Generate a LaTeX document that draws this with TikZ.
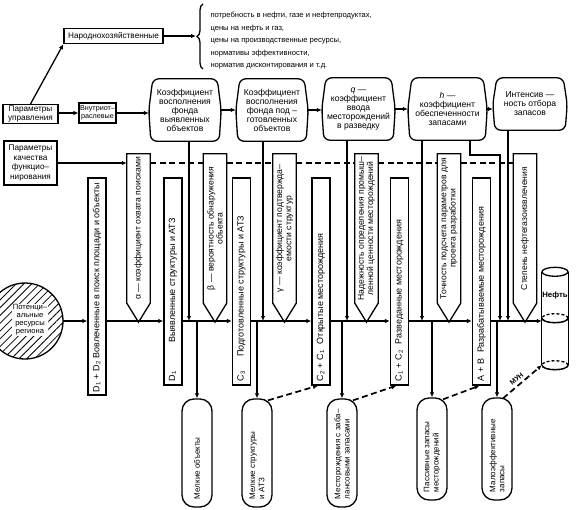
\documentclass[tikz,border=0pt]{standalone}
\usepackage{fontspec}
\setmainfont{Liberation Sans}
\usepackage{graphicx}
\usepackage{tikz}
\usetikzlibrary{arrows.meta,positioning,calc,patterns.meta,decorations.pathreplacing}
\tikzset{
  outl/.style={line width=1.3pt},
  pbox/.style={draw, line width=1.3pt, align=center, inner sep=1pt,
               font=\fontsize{8.2}{9.4}\selectfont},
  hdr/.style={align=center, inner sep=1pt, font=\fontsize{8.6}{9}\selectfont},
  stage/.style={draw, line width=1.3pt, inner sep=0pt, minimum width=18pt,
               font=\fontsize{9}{9.5}\selectfont},
  pent/.style={inner sep=0pt, minimum width=23pt, minimum height=149pt,
               font=\fontsize{8.6}{9.2}\selectfont},
  lbox/.style={draw, line width=1.3pt, rounded corners=12pt, inner sep=0pt,
               minimum width=30pt, font=\fontsize{8}{9.2}\selectfont},
  flow/.style={-{Latex[length=5pt,width=4.5pt]}, line width=1.3pt},
  dline/.style={line width=1.7pt, dash pattern=on 6pt off 3.5pt},
  dflow/.style={dline, -{Latex[length=5pt,width=4.5pt]}},
}
\newcommand{\vt}[2]{\rotatebox{90}{\parbox{#1}{\raggedright #2}}}
\newcommand{\vtc}[2]{\rotatebox{90}{\parbox{#1}{\centering #2}}}
\newcommand{\pentline}[1]{\draw[outl] (#1.north west) -- (#1.north east) -- (#1.south east)
  -- ($(#1.south)+(0,19)$) -- (#1.south west) -- cycle;}
\newcommand{\hdrline}[1]{\draw[outl, rounded corners=6pt] ($(#1.north west)+(4,0)$)
  -- ($(#1.north east)+(-4,0)$) -- (#1.east) -- ($(#1.south east)+(-2,0)$)
  -- ($(#1.south west)+(2,0)$) -- (#1.west) -- cycle;}

\begin{document}
\begin{tikzpicture}[x=1pt, y=-1pt]
  \useasboundingbox (0,0) rectangle (577,510);

  % top: national economy parameters
  \node[pbox, minimum width=99pt, minimum height=15pt] (nh) at (113.5,36) {Народнохозяйственные};
  \coordinate (bt) at (196,36);
  \draw[outl, decorate, decoration={brace, amplitude=6pt}] (203,69) -- (203,4);
  \node[anchor=west, align=left, font=\fontsize{7.6}{12.5}\selectfont] (needs) at (207,41)
    {потребность в нефти, газе и нефтепродуктах,\\цены на нефть и газ,\\цены на производственные ресурсы,\\нормативы эффективности,\\норматив дисконтирования и т.д.};
  \draw[flow, line width=1.8pt] (nh.east) -- (nh.east -| bt);

  % left column
  \node[pbox, minimum width=55pt, minimum height=18pt] (pu) at (30.5,114) {Параметры\\управления};
  \node[pbox, minimum width=35pt, minimum height=20pt, font=\fontsize{7.2}{8.2}\selectfont] (vo) at (97.5,113) {Внутриот–\\раслевые};
  \node[pbox, minimum width=53pt, minimum height=44pt] (pk) at (30.5,163) {Параметры\\качества\\функцио–\\нирования};
  \draw[flow] (pu.north) -- (nh.south west);
  \draw[flow] (pu.east |- vo.west) -- (vo.west);

  % coefficients
  \node[hdr, minimum width=72pt, minimum height=62pt] (h1) at (185,110) {Коэффициент\\восполнения\\фонда\\выявленных\\объектов};
  \node[hdr, minimum width=72pt, minimum height=62pt] (h2) at (272,110) {Коэффициент\\восполнения\\фонда под –\\готовленных\\объектов};
  \node[hdr, minimum width=73pt, minimum height=62pt] (h3) at (358.5,109) {\textit{q} —\\коэффициент\\ввода\\месторождений\\в разведку};
  \node[hdr, minimum width=79pt, minimum height=62pt] (h4) at (447.5,109) {\textit{h} —\\коэффициент\\обеспеченности\\запасами};
  \node[hdr, minimum width=74pt, minimum height=52pt] (h5) at (530,104) {Интенсив —\\ность отбора\\запасов};
  \foreach \n in {h1,h2,h3,h4,h5} \hdrline{\n};
  \draw[flow] (vo.east) -- (vo.east -| h1.west);
  \foreach \a/\b in {h1/h2,h2/h3,h3/h4,h4/h5}
    \draw[flow] (\a.east) -- (\a.east -| \b.west);

  % quality of functioning
  \node[pent] (pa) at (138.5,228.5) {\vtc{147pt}{α — коэффициент охвата поисками}};
  \node[pent] (pb) at (215,228.5) {\vtc{147pt}{β — вероятность обнаружения\\объекта}};
  \node[pent] (pg) at (284.5,228.5) {\vtc{147pt}{γ — коэффициент подтвержда–\\емости структур}};
  \node[pent] (pn) at (366.5,228.5) {\vtc{147pt}{Надежность определения промыш–\\ленной ценности месторождений}};
  \node[pent] (pt) at (449,228.5) {\vtc{147pt}{Точность подсчета параметров для\\проекта разработки}};
  \node[pent] (ps) at (525,228.5) {\vtc{147pt}{Степень нефтегазоизвлечения}};
  \foreach \n in {pa,pb,pg,pn,pt,ps} \pentline{\n};
  \draw[flow] (pk.east) -- (pk.east -| pa.west);
  \foreach \a/\b in {pa/pb,pb/pg,pg/pn,pn/pt,pt/ps}
    \draw[dline] (\a.east |- pk.east) -- (\b.west |- pk.east);

  % stages
  \node[circle, draw, line width=1.3pt, minimum size=76pt,
        pattern={Lines[angle=45,distance=5.5pt,line width=0.8pt]}] (res) at (25,321) {};
  \node[fill=white, inner sep=0.6pt, align=center, font=\fontsize{7.6}{8}\selectfont] (restxt) at (30,320)
    {Потенци–\\альные\\ресурсы\\региона};
  \node[stage, minimum height=217pt] (s1) at (97,286.5) {\vt{211pt}{D\textsubscript{1} + D\textsubscript{2} Вовлеченные в поиск площади и объекты}};
  \node[stage, minimum height=207pt] (s2) at (173,281.5) {\vt{199pt}{D\textsubscript{1}\hspace{28pt}Выявленные структуры и АТЗ}};
  \node[stage, minimum height=207pt] (s3) at (241.5,281.5) {\vt{199pt}{C\textsubscript{3}\hspace{14pt}Подготовленные структуры и АТЗ}};
  \node[stage, minimum height=207pt] (s4) at (321,281.5) {\vt{199pt}{C\textsubscript{2} + C\textsubscript{1}\hspace{6pt}Открытые месторождения}};
  \node[stage, minimum height=207pt] (s5) at (399.5,281.5) {\vt{199pt}{C\textsubscript{1} + C\textsubscript{2}\hspace{6pt}Разведанные месторождения}};
  \node[stage, minimum height=207pt] (s6) at (481.5,281.5) {\vt{199pt}{A + B\hspace{6pt}Разрабатываемые месторождения}};

  % oil tank
  \node[inner sep=0pt, minimum width=26pt, minimum height=46pt, font=\fontsize{7.8}{8}\selectfont\bfseries] (oil) at (555,295) {Нефть};
  \coordinate (oilb) at ($(oil.south west)+(0,47)$);
  \draw[outl] (oil.north) ellipse [x radius=13pt, y radius=4.5pt];
  \draw[outl] (oil.north west) -- (oilb);
  \draw[outl] (oil.north east) -- ($(oil.south east)+(0,47)$);
  \foreach \dy in {0,47} {
    \draw[outl, dash pattern=on 3pt off 2pt] ($(oil.south)+(0,\dy)$) ellipse [x radius=13pt, y radius=4.5pt];
    \begin{scope}
      \clip ($(oil.south west)+(-2,\dy)$) rectangle ++(30,7);
      \draw[outl] ($(oil.south)+(0,\dy)$) ellipse [x radius=13pt, y radius=4.5pt];
    \end{scope}
  }

  % main flow
  \coordinate (m) at (0,321);
  \draw[flow] (res.east) -- (res.east -| s1.west);
  \foreach \a/\b in {s1/s2,s2/s3,s3/s4,s4/s5,s5/s6}
    \draw[flow] (\a.east |- m) -- (\b.west |- m);
  \draw[flow] (s6.east |- m) -- (oil.west |- m);

  % coefficients acting on the flow
  \coordinate (v1) at (189,321);
  \coordinate (v2) at (263,321);
  \coordinate (v3) at (347,321);
  \coordinate (v4) at (422,321);
  \coordinate (v5) at (500,321);
  \coordinate (v6) at (508,321);
  \coordinate (k) at (470,155);
  \foreach \h/\v in {h1/v1,h2/v2,h3/v3,h4/v4,h5/v6}
    \draw[flow] (\h.south -| \v) -- (\v);
  \draw[flow] (h4.south -| k) -- (k) -| (v5);

  % losses
  \node[lbox, minimum height=108pt] (l1) at (197,453) {\vt{92pt}{Мелкие объекты}};
  \node[lbox, minimum height=108pt] (l2) at (257,453) {\vt{92pt}{Мелкие структуры\\и АТЗ}};
  \node[lbox, minimum height=108pt] (l3) at (342,453) {\vt{92pt}{Месторождения с заба–\\лансовыми запасами}};
  \node[lbox, minimum height=102pt] (l4) at (432,449) {\vt{86pt}{Пассивные запасы\\месторождений}};
  \node[lbox, minimum height=102pt] (l5) at (497,449) {\vt{86pt}{Малоэффективные\\запасы}};
  \foreach \l in {l1,l2,l3,l4,l5}
    \draw[flow] (\l.north |- m) -- (\l.north);
  \draw[dflow] ($(l2.north)+(11,2)$) -- ($(s4.south)+(-3,0)$);
  \draw[dflow] ($(l3.north)+(11,2)$) -- ($(s5.south)+(-3,0)$);
  \draw[dflow] ($(l4.north)+(11,2)$) -- ($(s6.south)+(-2,0)$);
  \draw[dflow] ($(l5.north)+(6,1)$) -- (oilb)
    node[pos=0.45, above=2pt, sloped, inner sep=0.5pt, font=\fontsize{7}{8}\selectfont\bfseries] (mun) {МУН};
\end{tikzpicture}
\end{document}
